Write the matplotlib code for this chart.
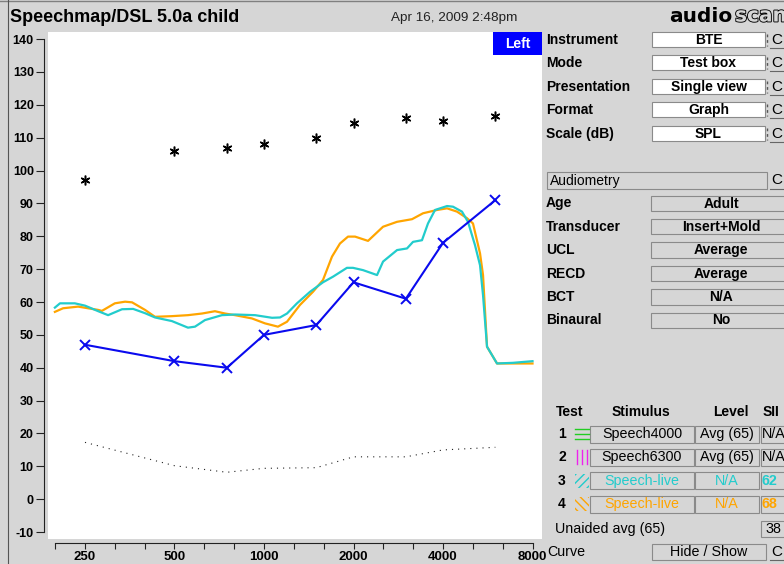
import numpy as np
import matplotlib
matplotlib.use('Agg')
import matplotlib.pyplot as plt
from matplotlib.patches import Rectangle
from matplotlib.ticker import NullFormatter
import matplotlib.patheffects as pe

plt.rcParams['font.family'] = ['Liberation Sans', 'DejaVu Sans']

# --- data ---
audio_hz = [250, 500, 750, 1000, 1500, 2000, 3000, 4000, 6000]
thresh_db = [47, 42, 40, 50, 53, 66, 61, 78, 91]          # blue x line
ucl_db = [97, 106, 107, 108, 110, 114.5, 116, 115, 116.5]  # asterisks
noise_db = [17.3, 10.2, 8.2, 9.4, 9.6, 12.9, 12.9, 15.0, 15.8]  # dotted

cyan_hz = [198, 206, 231, 250, 277, 299, 333, 363, 398, 430,
           490, 555, 586, 633, 722, 799, 933, 1064, 1132, 1195,
           1291, 1428, 1579, 1706, 1901, 1992, 2153, 2400, 2514, 2802,
           3027, 3171, 3399, 3561, 3760, 4127, 4322, 4633, 4853, 5125,
           5328, 5453, 5625, 6077, 6878, 8000]
cyan_db = [58.3, 59.6, 59.6, 58.9, 57.2, 56.0, 57.8, 57.9, 56.6, 55.3,
           54.2, 52.2, 52.5, 54.5, 56.0, 56.2, 56.0, 55.2, 55.3, 56.5,
           59.6, 63.1, 66.0, 67.7, 70.4, 70.4, 69.7, 68.2, 72.3, 75.8,
           76.3, 78.3, 78.8, 83.9, 88.0, 89.2, 89.0, 87.5, 84.4, 77.3,
           71.2, 62.1, 46.4, 41.3, 41.5, 42.0]

orange_hz = [198, 211, 237, 256, 277, 285, 315, 341, 360, 398,
             430, 490, 555, 619, 684, 739, 799, 911, 1008, 1114,
             1195, 1321, 1461, 1579, 1693, 1801, 1917, 2024, 2238, 2514,
             2802, 3147, 3427, 3818, 4127, 4458, 4817, 5045, 5328, 5453,
             5625, 6077, 8000]
orange_db = [57.0, 58.1, 58.6, 58.1, 57.6, 57.3, 59.6, 60.1, 59.9, 57.6,
             55.5, 55.7, 56.0, 56.5, 57.2, 56.5, 56.0, 55.0, 53.5, 52.5,
             54.0, 59.1, 63.1, 66.7, 73.8, 77.8, 79.9, 79.9, 78.6, 82.9,
             84.4, 85.2, 87.0, 88.0, 88.5, 87.5, 85.5, 83.9, 74.8, 68.2,
             46.4, 41.3, 41.3]

major_hz = [250, 500, 1000, 2000, 4000, 8000]
levels = list(range(-10, 141, 10))

panel_labels = ['Instrument', 'Mode', 'Presentation', 'Format', 'Scale (dB)']
panel_values = ['BTE', 'Test box', 'Single view', 'Graph', 'SPL']
audio_labels = ['Age', 'Transducer', 'UCL', 'RECD', 'BCT', 'Binaural']
audio_values = ['Adult', 'Insert+Mold', 'Average', 'Average', 'N/A', 'No']
test_nums = ['1', '2', '3', '4']
stimuli = ['Speech4000', 'Speech6300', 'Speech-live', 'Speech-live']
test_levels = ['Avg (65)', 'Avg (65)', 'N/A', 'N/A']
sii = ['N/A', 'N/A', '62', '68']

CYAN = '#22cccc'
ORANGE = '#ffa500'
BLUE = '#0a0aee'
BG = '#d6d6d6'
W, H = 784, 564
test_colors = ['black', 'black', CYAN, ORANGE]

fig = plt.figure(figsize=(W / 100, H / 100), dpi=100, facecolor=BG)


def frac(x0, y0, x1, y1):
    return [x0 / W, 1 - y1 / H, (x1 - x0) / W, (y1 - y0) / H]


# --- the graph ---
ax = fig.add_axes(frac(47.5, 31.5, 541.7, 539))
ax.set_facecolor('white')
ax.set_xscale('log', base=2)
ax.set_xlim(187, 8590)
ax.set_ylim(-12.1, 142.3)

gx, gy = np.meshgrid(major_hz, levels)
ax.scatter(gx.ravel(), gy.ravel(), s=0.45, marker='s', c='#707070', lw=0, zorder=1)

ax.plot(audio_hz, noise_db, color='#222222', lw=0.8, ls=(0, (1, 4.5)), zorder=2)
ax.plot(orange_hz, orange_db, color=ORANGE, lw=1.6, zorder=3)
ax.plot(cyan_hz, cyan_db, color=CYAN, lw=1.6, zorder=4)
ax.plot(audio_hz, thresh_db, color=BLUE, lw=1.5, marker='x', ms=7, mew=1.4, zorder=5)
ax.plot(audio_hz, ucl_db, ls='none', marker=(6, 2, 0), ms=7, mew=1.1, color='k', zorder=5)

for s in ['top', 'right']:
    ax.spines[s].set_visible(False)
ax.spines['left'].set_position(('outward', 2.4))
ax.spines['left'].set_bounds(-10, 140)
ax.spines['bottom'].set_position(('outward', 2.9))
third_hz = [250 * 2 ** (n / 3) for n in range(-1, 16)]
ax.spines['bottom'].set_bounds(third_hz[0], third_hz[-1])
for s in ['left', 'bottom']:
    ax.spines[s].set_color('#222222')
    ax.spines[s].set_linewidth(0.8)

ax.set_yticks(levels, labels=[str(v) for v in levels], fontweight='bold', fontsize=9)
ax.set_xticks(major_hz, labels=[str(f) for f in major_hz], fontweight='bold', fontsize=9.5)
ax.set_xticks(third_hz, minor=True)
ax.xaxis.set_minor_formatter(NullFormatter())
ax.tick_params(axis='y', direction='out', length=6, width=0.8, pad=1.5, color='#222222')
ax.tick_params(axis='x', which='both', direction='out', length=4, width=0.8, pad=1.5, color='#222222')

# --- screen furniture drawn in pixel coordinates ---
ui = fig.add_axes([0, 0, 1, 1])
ui.set_xlim(0, W)
ui.set_ylim(H, 0)
ui.axis('off')
ui.set_zorder(5)


def box(x0, y0, x1, y1, fc=BG):
    ui.add_patch(Rectangle((x0, y0), x1 - x0, y1 - y0, fc=fc, ec='#8a8a8a', lw=0.8))


def cbutton(yc):
    ui.text(771, yc, 'C', fontsize=11, va='center', ha='left')
    ui.plot([770, 784], [yc + 8, yc + 8], color='#666666', lw=0.8)


ui.plot([0, W], [0.5, 0.5], color='#808080', lw=1)
ui.plot([8.3, 8.3], [0, H], color='#555555', lw=0.8)
ui.text(10, 21.5, 'Speechmap/DSL 5.0a child', fontsize=13, fontweight='bold', va='baseline')
ui.text(391, 21.5, 'Apr 16, 2009 2:48pm', fontsize=9.7, va='baseline', color='#222222')
ui.text(669, 21.5, 'audio', fontsize=14.5, fontweight='bold', va='baseline', family='DejaVu Sans')
ui.text(735, 21.5, 'scan', fontsize=14.5, fontweight='bold', va='baseline', family='DejaVu Sans',
        color=BG, path_effects=[pe.withStroke(linewidth=1.3, foreground='black')])

ui.add_patch(Rectangle((493, 31.7), 48.7, 23.3, fc='#0000ff', ec='none'))
ui.text(517.5, 43.5, 'Left', color='white', fontsize=10, fontweight='bold', ha='center', va='center')

for i, (lab, val) in enumerate(zip(panel_labels, panel_values)):
    yc = 40 + 23.4 * i
    ui.text(546, yc, lab, fontsize=10, fontweight='bold', va='center')
    box(652, yc - 8, 765, yc + 7, fc='white')
    ui.text(708.5, yc, val, fontsize=10, fontweight='bold', va='center', ha='center')
    ui.plot([767.5, 767.5], [yc - 6, yc + 6], color='#555555', lw=1, ls=(0, (2, 2)))
    cbutton(yc)

box(547, 172, 767, 188.5)
ui.text(550, 180.5, 'Audiometry', fontsize=10, va='center')
cbutton(180.5)

for i, (lab, val) in enumerate(zip(audio_labels, audio_values)):
    yc = 203.5 + 23.4 * i
    ui.text(546, yc, lab, fontsize=10, fontweight='bold', va='center')
    box(651, yc - 8, 790, yc + 7.5)
    ui.text(721, yc, val, fontsize=10, fontweight='bold', va='center', ha='center')

ui.text(570, 412, 'Test', fontsize=10, fontweight='bold', va='center', ha='center')
ui.text(641, 412, 'Stimulus', fontsize=10, fontweight='bold', va='center', ha='center')
ui.text(731, 412, 'Level', fontsize=10, fontweight='bold', va='center', ha='center')
ui.text(763, 412, 'SII', fontsize=10, fontweight='bold', va='center', ha='left')

for i in range(4):
    yc = 434 + 23.4 * i
    col = test_colors[i]
    ui.text(562, yc, test_nums[i], fontsize=10, fontweight='bold', va='center', ha='center')
    if i == 0:
        for dy in (-5, 0, 5):
            ui.plot([575, 589], [yc + dy, yc + dy], color='#22cc22', lw=1)
    elif i == 1:
        for dx in (577, 582, 587):
            ui.plot([dx, dx], [yc - 7, yc + 7], color='#ee22ee', lw=1)
    else:
        ui.add_patch(Rectangle((575, yc - 7), 14, 14, fill=False, lw=0, ec=col,
                               hatch='////' if i == 2 else '\\\\\\\\'))
    box(590, yc - 8.5, 694, yc + 8.5)
    ui.text(642, yc, stimuli[i], fontsize=10.3, color=col, va='center', ha='center')
    box(695, yc - 8.5, 759, yc + 8.5)
    ui.text(727, yc, test_levels[i], fontsize=10.3, color=col, va='center', ha='center')
    box(761, yc - 8.5, 790, yc + 8.5)
    ui.text(762, yc, sii[i], fontsize=10.3, color=col, va='center', ha='left',
            fontweight='bold' if i > 1 else 'normal')

ui.text(555, 528.5, 'Unaided avg (65)', fontsize=10.3, va='center')
box(761, 521, 790, 537)
ui.text(765, 529, '38', fontsize=10.3, va='center')

ui.text(547, 551.5, 'Curve', fontsize=10.3, va='center')
box(652, 543.5, 766.5, 560)
ui.text(709, 551.5, 'Hide / Show', fontsize=10.3, va='center', ha='center')
cbutton(551.5)

fig.savefig('out.png', dpi=100, facecolor=BG)
